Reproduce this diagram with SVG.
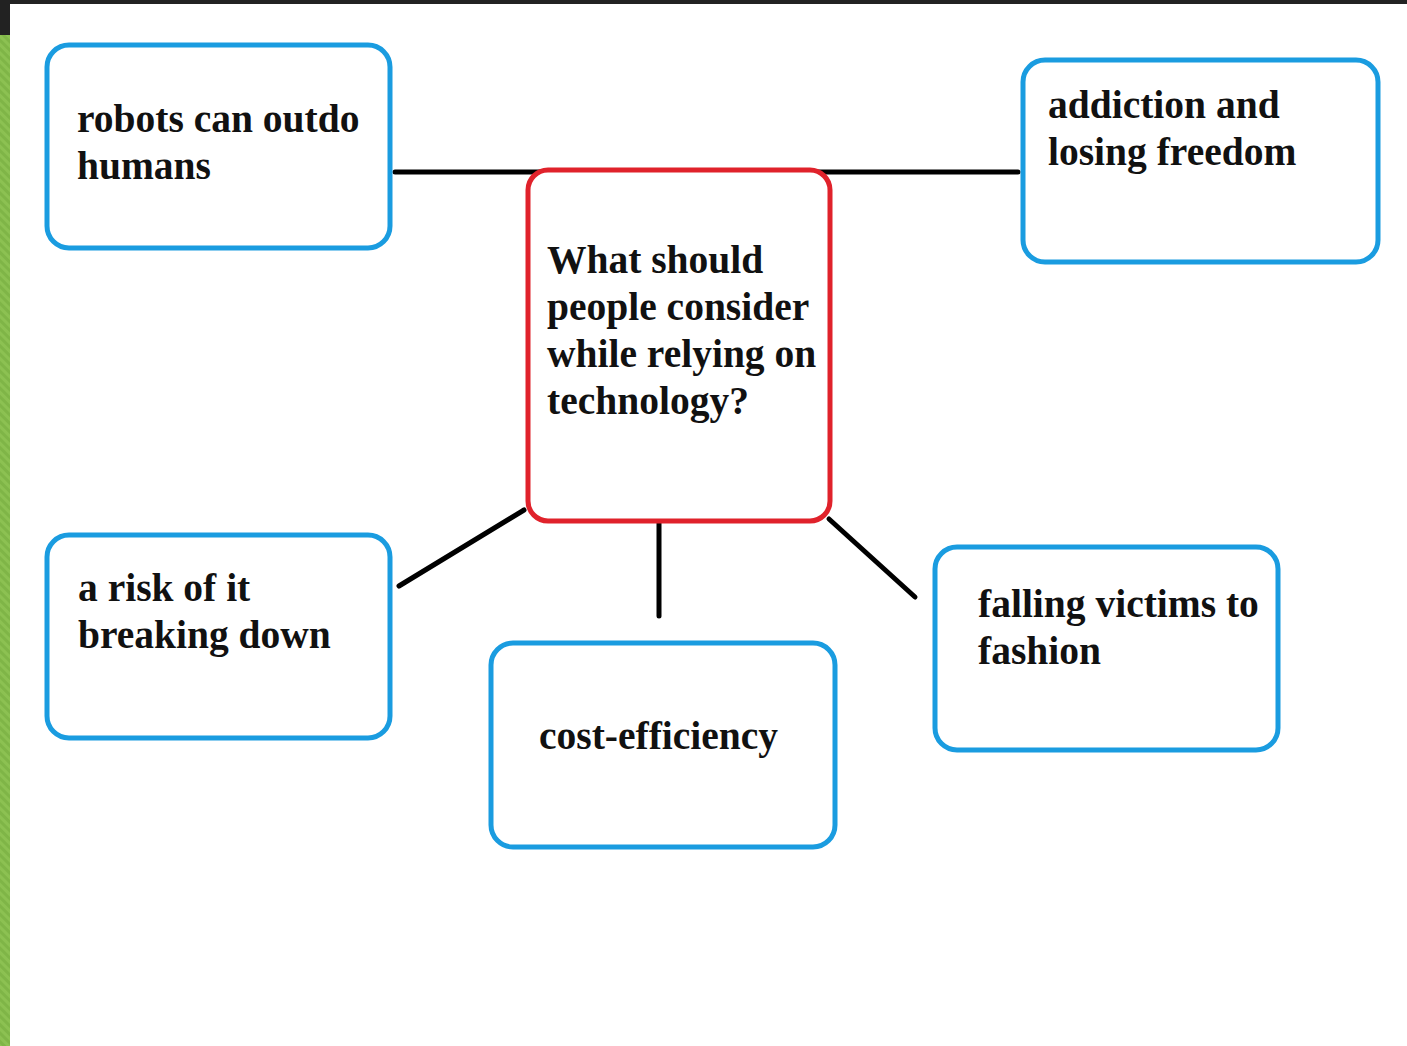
<svg xmlns="http://www.w3.org/2000/svg" width="1407" height="1046" viewBox="0 0 1407 1046">
<defs>
<pattern id="stripes" width="6" height="6" patternUnits="userSpaceOnUse" patternTransform="rotate(-45)">
<rect width="6" height="6" fill="#8cc152"/>
<rect width="3" height="6" fill="#7fb547"/>
</pattern>
<style>
.box{fill:#ffffff;stroke:#1a9ce0;stroke-width:5}
.center{fill:#ffffff;stroke:#e0222b;stroke-width:5}
.conn{stroke:#000000;stroke-width:5;stroke-linecap:round;fill:none}
.t{font-family:"Liberation Serif","Times New Roman",serif;font-weight:bold;font-size:39.5px;fill:#111111}
</style>
</defs>
<rect x="0" y="0" width="1407" height="1046" fill="#ffffff"/>
<rect x="0" y="0" width="1407" height="4" fill="#222222"/>
<rect x="0" y="0" width="10" height="35" fill="#222222"/>
<rect x="0" y="35" width="10" height="1011" fill="url(#stripes)"/>
<g id="connectors">
<line class="conn" x1="395" y1="172" x2="542" y2="172"/>
<line class="conn" x1="817" y1="172" x2="1018" y2="172"/>
<line class="conn" x1="524" y1="510" x2="399" y2="586"/>
<line class="conn" x1="659" y1="523" x2="659" y2="616"/>
<line class="conn" x1="829" y1="519" x2="915" y2="597"/>
</g>
<g id="center">
<rect class="center" x="528" y="170" width="302" height="351" rx="20"/>
<text class="t" x="547" y="273">What should</text>
<text class="t" x="547" y="320">people consider</text>
<text class="t" x="547" y="367">while relying on</text>
<text class="t" x="547" y="414">technology?</text>
</g>
<g id="robots">
<rect class="box" x="47" y="45" width="343" height="203" rx="22"/>
<text class="t" x="77" y="132">robots can outdo</text>
<text class="t" x="77" y="179">humans</text>
</g>
<g id="addiction">
<rect class="box" x="1023" y="60" width="355" height="202" rx="22"/>
<text class="t" x="1048" y="118">addiction and</text>
<text class="t" x="1048" y="165">losing freedom</text>
</g>
<g id="risk">
<rect class="box" x="47" y="535" width="343" height="203" rx="22"/>
<text class="t" x="78" y="601">a risk of it</text>
<text class="t" x="78" y="648">breaking down</text>
</g>
<g id="cost">
<rect class="box" x="491" y="643" width="344" height="204" rx="22"/>
<text class="t" x="539" y="749">cost-efficiency</text>
</g>
<g id="falling">
<rect class="box" x="935" y="547" width="343" height="203" rx="22"/>
<text class="t" x="978" y="617">falling victims to</text>
<text class="t" x="978" y="664">fashion</text>
</g>
</svg>
